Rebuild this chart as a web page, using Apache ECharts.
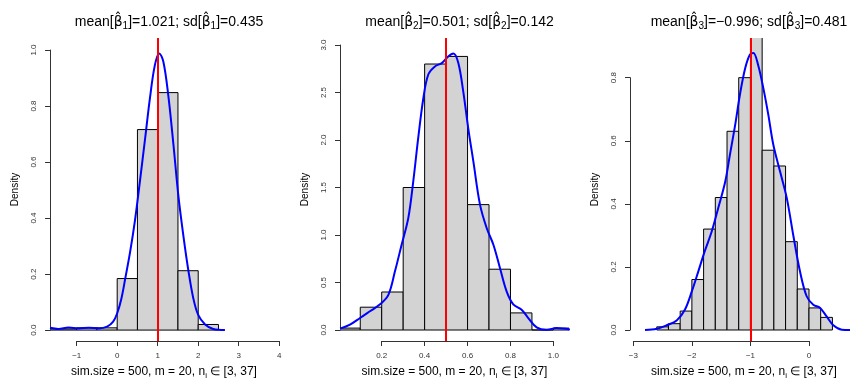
<!DOCTYPE html>
<html><head><meta charset="utf-8">
<script src="https://cdn.jsdelivr.net/npm/echarts@6/dist/echarts.min.js"></script>
<style>html,body{margin:0;padding:0;background:#fff}#c{width:850px;height:382px}</style>
</head><body><div id="c"></div>
<script>
// ---------- data ----------
const panelIndex = [1, 2, 3];
const meanVals = [1.021, 0.501, -0.996];
const sdVals = [0.435, 0.142, 0.481];
const trueBeta = [1, 0.5, -1];
const simSize = 500, mClusters = 20, nRange = [3, 37];

// panel 1 histogram
const p1Edges = [-2, -1.5, -1, -0.5, 0, 0.5, 1, 1.5, 2, 2.5];
const p1Density = [0.004, 0.004, 0.008, 0.008, 0.184, 0.716, 0.848, 0.212, 0.02];
const p1KdeX = [-1.66,-1.45,-1.2,-0.95,-0.7,-0.45,-0.25,-0.1,0.0,0.1,0.2,0.32,0.44,0.56,0.69,0.81,0.93,1.04,1.14,1.26,1.39,1.51,1.64,1.76,1.88,2.0,2.17,2.37,2.66];
const p1KdeY = [0.008,0.004,0.009,0.006,0.008,0.006,0.012,0.03,0.06,0.11,0.185,0.28,0.393,0.53,0.685,0.83,0.946,0.988,0.958,0.84,0.66,0.48,0.33,0.21,0.113,0.054,0.02,0.004,0.0];
const p1XTicks = [-1, 0, 1, 2, 3, 4];
const p1YTicks = [0, 0.2, 0.4, 0.6, 0.8, 1.0];

// panel 2 histogram
const p2Edges = [0, 0.1, 0.2, 0.3, 0.4, 0.5, 0.6, 0.7, 0.8, 0.9, 1.0, 1.1];
const p2Density = [0.02, 0.24, 0.4, 1.5, 2.8, 2.88, 1.32, 0.64, 0.18, 0, 0.02];
const p2KdeX = [0.006,0.052,0.099,0.145,0.192,0.231,0.262,0.293,0.324,0.347,0.37,0.394,0.417,0.448,0.48,0.51,0.534,0.557,0.58,0.603,0.627,0.658,0.689,0.72,0.751,0.782,0.813,0.852,0.883,0.922,0.969,1.015,1.077];
const p2KdeY = [0.014,0.056,0.126,0.197,0.27,0.37,0.62,0.9,1.18,1.565,2.02,2.44,2.69,2.775,2.81,2.88,2.91,2.81,2.51,2.126,1.775,1.32,1.074,0.9,0.653,0.407,0.27,0.214,0.126,0.028,0.003,0.021,0.005];
const p2XTicks = [0.2, 0.4, 0.6, 0.8, 1.0];
const p2YTicks = [0, 0.5, 1.0, 1.5, 2.0, 2.5, 3.0];

// panel 3 histogram
const p3Edges = [-2.6,-2.4,-2.2,-2.0,-1.8,-1.6,-1.4,-1.2,-1.0,-0.8,-0.6,-0.4,-0.2,0,0.2,0.4];
const p3Density = [0.01,0.02,0.06,0.16,0.32,0.42,0.63,0.80,0.97,0.57,0.52,0.28,0.13,0.07,0.04];
const p3KdeX = [-2.8,-2.6,-2.43,-2.26,-2.12,-2.0,-1.89,-1.78,-1.66,-1.55,-1.43,-1.35,-1.26,-1.18,-1.09,-1.01,-0.95,-0.87,-0.78,-0.695,-0.61,-0.495,-0.38,-0.27,-0.154,-0.04,0.073,0.19,0.30,0.415,0.56,0.70];
const p3KdeY = [0,0.004,0.015,0.03,0.064,0.123,0.186,0.25,0.313,0.387,0.471,0.556,0.651,0.746,0.83,0.873,0.878,0.841,0.767,0.683,0.588,0.503,0.419,0.302,0.186,0.107,0.08,0.07,0.043,0.015,0.001,0];
const p3XTicks = [-3, -2, -1, 0];
const p3YTicks = [0, 0.2, 0.4, 0.6, 0.8];

const edges = [p1Edges, p2Edges, p3Edges];
const dens = [p1Density, p2Density, p3Density];
const kdeX = [p1KdeX, p2KdeX, p3KdeX];
const kdeY = [p1KdeY, p2KdeY, p3KdeY];
const xTicks = [p1XTicks, p2XTicks, p3XTicks];
const yTicks = [p1YTicks, p2YTicks, p3YTicks];

// ---------- layout ----------
const W = 850, H = 382;
const plotTop = 38, plotBottom = 341;
const layout = [
  {left: 50, right: 278, xMin: -1.659, xMax: 3.970, yMin: -0.039, yMax: 1.043},
  {left: 340, right: 569, xMin: 0.0056, xMax: 1.0727, yMin: -0.1158, yMax: 3.074},
  {left: 630, right: 858, xMin: -3.057, xMax: 0.837, yMin: -0.0349, yMax: 0.9258}
];
function xPx(L, v) { return L.left + (v - L.xMin) / (L.xMax - L.xMin) * (L.right - L.left); }
function yPx(L, v) { return plotBottom - (v - L.yMin) / (L.yMax - L.yMin) * (plotBottom - plotTop); }
const fmtNum = (v, d) => { const s = Math.abs(v).toFixed(d); return v < 0 ? '\u2212' + s : s; };
const FONT = 'Liberation Sans, Arial, Helvetica, sans-serif';
const AX = '#333';
const GB = {containLabel: false, outerBoundsMode: 'none'};

const grid = [], xAxis = [], yAxis = [], series = [], title = [];
layout.forEach((L, i) => {
  const g0 = grid.length;
  // data grid
  grid.push(Object.assign({left: L.left, top: plotTop, width: L.right - L.left, height: plotBottom - plotTop}, GB));
  xAxis.push({gridIndex: g0, type: 'value', min: L.xMin, max: L.xMax,
    axisLine: {show: false}, axisTick: {show: false}, axisLabel: {show: false}, splitLine: {show: false},
    name: '{n|sim.size = ' + simSize + ', m = ' + mClusters + ', n}{s|i}{n| \u2208 [' + nRange[0] + ', ' + nRange[1] + ']}',
    nameLocation: 'middle', nameGap: 23,
    nameTextStyle: {fontFamily: FONT, color: '#000', rich: {
      n: {fontSize: 12, fontFamily: FONT, color: '#000', lineHeight: 16},
      s: {fontSize: 8, fontFamily: FONT, color: '#000', lineHeight: 16, padding: [7, 0, 0, 0]}
    }}});
  yAxis.push({gridIndex: g0, type: 'value', min: L.yMin, max: L.yMax,
    axisLine: {show: false}, axisTick: {show: false}, axisLabel: {show: false}, splitLine: {show: false},
    name: 'Density', nameLocation: 'middle', nameRotate: 90, nameGap: 30,
    nameTextStyle: {fontFamily: FONT, fontSize: 10, color: '#000'}});
  // x axis grid
  const xt = xTicks[i], x0 = xPx(L, xt[0]), x1 = xPx(L, xt[xt.length - 1]);
  const g1 = grid.length;
  grid.push(Object.assign({left: x0, width: x1 - x0, top: plotBottom - 1, height: 1}, GB));
  xAxis.push({gridIndex: g1, type: 'value', min: xt[0], max: xt[xt.length - 1], interval: +(xt[1] - xt[0]).toFixed(6),
    axisLine: {show: true, lineStyle: {color: AX, width: 1}}, axisTick: {show: true, length: 5, lineStyle: {color: AX}},
    splitLine: {show: false},
    axisLabel: {show: true, fontSize: 8, fontFamily: FONT, color: AX, margin: 11, showMinLabel: true, showMaxLabel: true,
      formatter: v => fmtNum(v, (i === 1) ? 1 : 0)}});
  yAxis.push({gridIndex: g1, type: 'value', show: false});
  // y axis grid
  const yt = yTicks[i], yTopPx = yPx(L, yt[yt.length - 1]), y0Px = yPx(L, yt[0]);
  const g2 = grid.length;
  grid.push(Object.assign({left: L.left, width: 1, top: yTopPx, height: y0Px - yTopPx}, GB));
  xAxis.push({gridIndex: g2, type: 'value', show: false});
  yAxis.push({gridIndex: g2, type: 'value', min: yt[0], max: yt[yt.length - 1], interval: +(yt[1] - yt[0]).toFixed(6),
    axisLine: {show: true, lineStyle: {color: AX, width: 1}}, axisTick: {show: true, length: 5, lineStyle: {color: AX}},
    splitLine: {show: false},
    axisLabel: {show: true, rotate: 90, fontSize: 8, fontFamily: FONT, color: AX, margin: 12, showMinLabel: true, showMaxLabel: true,
      formatter: v => v.toFixed(1)}});

  // histogram bars
  const bars = dens[i].map((d, k) => [edges[i][k], edges[i][k + 1], d]);
  series.push({type: 'custom', xAxisIndex: g0, yAxisIndex: g0, clip: true, z: 2, silent: true,
    data: bars,
    renderItem: (params, api) => {
      const a = api.coord([api.value(0), 0]);
      const b = api.coord([api.value(1), api.value(2)]);
      return {type: 'rect', shape: {x: a[0], y: b[1], width: b[0] - a[0], height: a[1] - b[1]},
        style: {fill: '#d3d3d3', stroke: '#000', lineWidth: 1}};
    }});
  // kernel density
  series.push({type: 'line', xAxisIndex: g0, yAxisIndex: g0, z: 3, silent: true, clip: true,
    data: kdeX[i].map((x, k) => [x, kdeY[i][k]]), smooth: 0.35, showSymbol: false, symbol: 'none',
    lineStyle: {color: '#0000ff', width: 2}});
  // true value line
  series.push({type: 'line', xAxisIndex: g0, yAxisIndex: g0, z: 4, silent: true, data: [],
    markLine: {silent: true, symbol: ['none', 'none'], label: {show: false}, animation: false,
      lineStyle: {color: '#ff0000', width: 2, type: 'solid'}, data: [{xAxis: trueBeta[i]}]}});

  // title
  const k = panelIndex[i];
  title.push({left: (L.left + L.right) / 2, textAlign: 'center', top: 7,
    text: '{n|mean[}{b|\u03B2\u0302}{s|' + k + '}{n|]=' + fmtNum(meanVals[i], 3) + '; sd[}{b|\u03B2\u0302}{s|' + k + '}{n|]=' + fmtNum(sdVals[i], 3) + '}',
    textStyle: {fontFamily: FONT, fontWeight: 'normal', rich: {
      n: {fontSize: 14, fontFamily: FONT, fontWeight: 'normal', color: '#000', lineHeight: 20},
      b: {fontSize: 14, fontFamily: 'DejaVu Sans', fontWeight: 'normal', color: '#000', lineHeight: 20},
      s: {fontSize: 10, fontFamily: FONT, fontWeight: 'normal', color: '#000', lineHeight: 20, padding: [8, 0, 0, 0]}
    }}});
});

const chart = echarts.init(document.getElementById('c'), null, {renderer: 'canvas', width: W, height: H});
chart.setOption({animation: false, backgroundColor: '#fff', title, grid, xAxis, yAxis, series});
</script></body></html>
